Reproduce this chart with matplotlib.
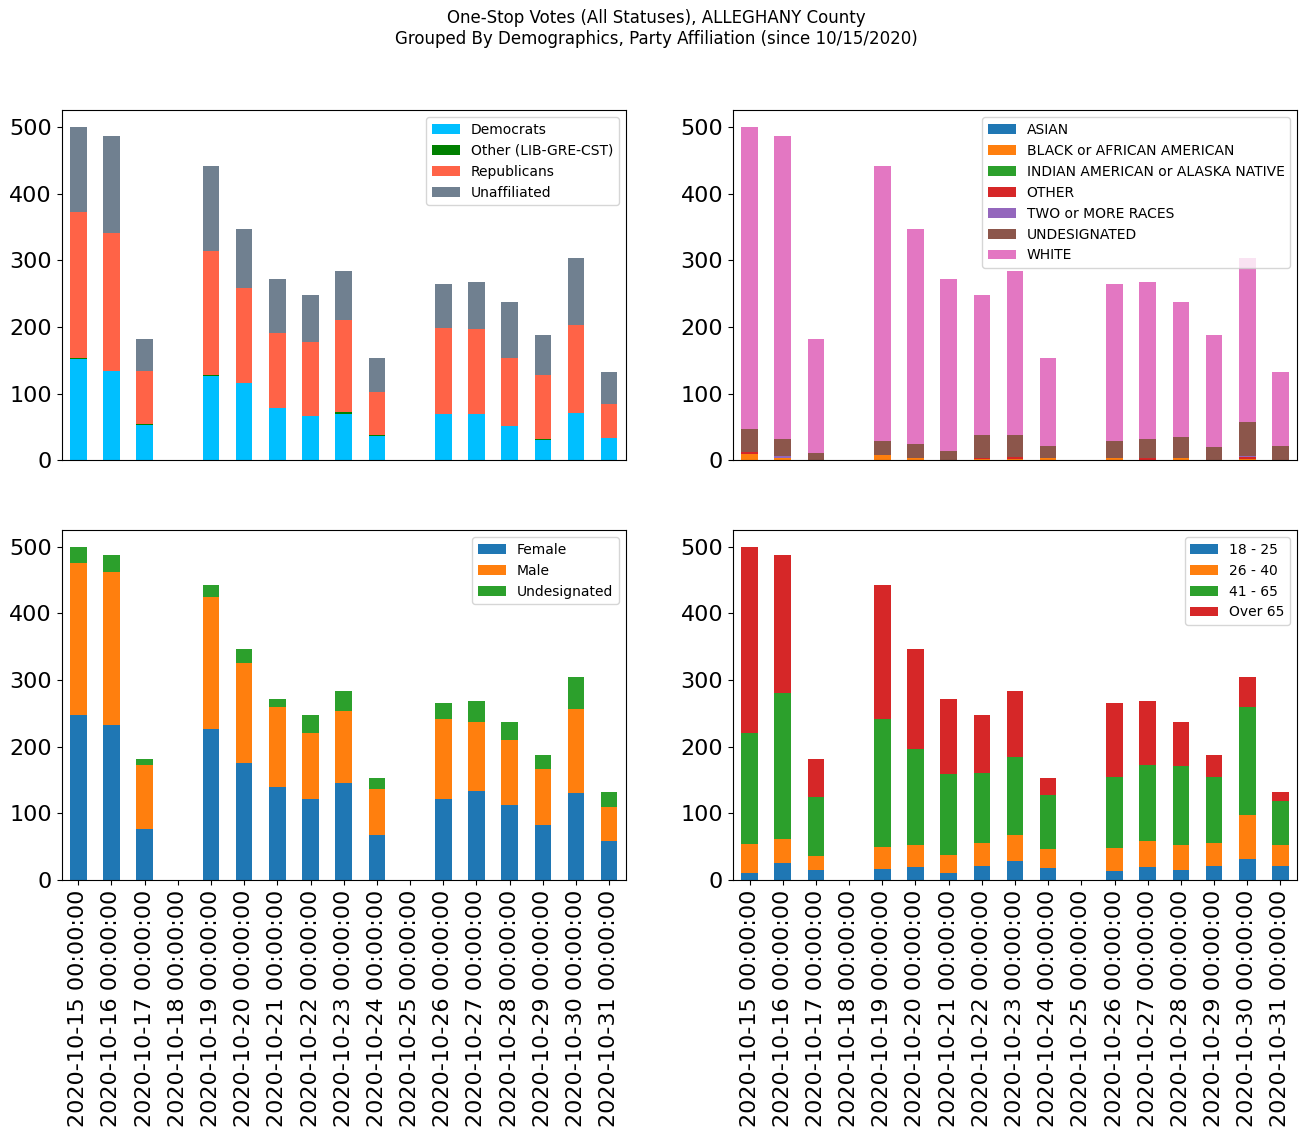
import matplotlib
matplotlib.use("Agg")
import matplotlib.pyplot as plt
import pandas as pd

dates = ["2020-10-15 00:00:00", "2020-10-16 00:00:00", "2020-10-17 00:00:00", "2020-10-18 00:00:00",
         "2020-10-19 00:00:00", "2020-10-20 00:00:00", "2020-10-21 00:00:00", "2020-10-22 00:00:00",
         "2020-10-23 00:00:00", "2020-10-24 00:00:00", "2020-10-25 00:00:00", "2020-10-26 00:00:00",
         "2020-10-27 00:00:00", "2020-10-28 00:00:00", "2020-10-29 00:00:00", "2020-10-30 00:00:00",
         "2020-10-31 00:00:00"]

# party
democrats    = [152, 134, 53, 0, 127, 116, 79, 67, 70, 37, 0, 69, 70, 52, 31, 71, 34]
other_party  = [2, 0, 1, 0, 1, 0, 0, 0, 2, 1, 0, 1, 0, 0, 1, 0, 0]
republicans  = [219, 207, 80, 0, 186, 143, 112, 111, 139, 65, 0, 128, 127, 102, 96, 132, 51]
unaffiliated = [127, 146, 48, 0, 128, 88, 81, 70, 73, 50, 0, 67, 71, 83, 60, 101, 47]

# race
asian        = [0, 0, 0, 0, 0, 1, 0, 0, 0, 0, 0, 0, 0, 0, 0, 0, 0]
black        = [9, 3, 0, 0, 8, 2, 0, 2, 2, 3, 0, 3, 1, 3, 0, 2, 0]
indian       = [1, 1, 0, 0, 0, 0, 0, 0, 0, 0, 0, 0, 0, 0, 1, 0, 0]
other_race   = [2, 0, 0, 0, 0, 1, 0, 1, 3, 0, 0, 1, 3, 1, 0, 3, 1]
two_or_more  = [1, 2, 0, 0, 0, 0, 0, 1, 0, 0, 0, 0, 0, 0, 0, 2, 0]
undesig_race = [34, 26, 11, 0, 21, 20, 14, 34, 33, 18, 0, 25, 28, 31, 19, 50, 20]
white        = [453, 455, 171, 0, 413, 323, 258, 210, 246, 132, 0, 236, 236, 202, 168, 247, 111]

# gender
female       = [247, 232, 77, 0, 226, 176, 139, 121, 146, 68, 0, 122, 134, 113, 83, 131, 59]
male         = [228, 230, 96, 0, 198, 150, 121, 100, 108, 69, 0, 120, 103, 97, 84, 125, 51]
undesig_sex  = [25, 25, 9, 0, 18, 21, 12, 27, 30, 16, 0, 23, 31, 27, 21, 48, 22]

# age
age_18_25    = [10, 26, 15, 0, 17, 20, 11, 21, 29, 18, 0, 14, 20, 15, 21, 32, 21]
age_26_40    = [44, 36, 21, 0, 33, 33, 27, 35, 39, 29, 0, 34, 39, 38, 35, 66, 32]
age_41_65    = [166, 218, 88, 0, 191, 144, 121, 105, 117, 81, 0, 107, 114, 118, 98, 161, 65]
age_over_65  = [280, 207, 58, 0, 201, 150, 113, 87, 99, 25, 0, 110, 95, 66, 34, 45, 14]

party_df = pd.DataFrame({"Democrats": democrats, "Other (LIB-GRE-CST)": other_party,
                         "Republicans": republicans, "Unaffiliated": unaffiliated}, index=dates)
race_df = pd.DataFrame({"ASIAN": asian, "BLACK or AFRICAN AMERICAN": black,
                        "INDIAN AMERICAN or ALASKA NATIVE": indian, "OTHER": other_race,
                        "TWO or MORE RACES": two_or_more, "UNDESIGNATED": undesig_race,
                        "WHITE": white}, index=dates)
gender_df = pd.DataFrame({"Female": female, "Male": male, "Undesignated": undesig_sex}, index=dates)
age_df = pd.DataFrame({"18 - 25": age_18_25, "26 - 40": age_26_40, "41 - 65": age_41_65,
                       "Over 65": age_over_65}, index=dates)

fig, axes = plt.subplots(2, 2, figsize=(13.12, 11.37), dpi=100)
fig.subplots_adjust(left=0.047, right=0.9886, top=0.903, bottom=0.226, wspace=0.19, hspace=0.2)
fig.suptitle("One-Stop Votes (All Statuses), ALLEGHANY County\n"
             "Grouped By Demographics, Party Affiliation (since 10/15/2020)", fontsize=12, y=0.992)

party_df.plot(kind="bar", stacked=True, ax=axes[0][0], fontsize=16,
              color=["deepskyblue", "green", "tomato", "slategray"])
race_df.plot(kind="bar", stacked=True, ax=axes[0][1], fontsize=16)
gender_df.plot(kind="bar", stacked=True, ax=axes[1][0], fontsize=16)
age_df.plot(kind="bar", stacked=True, ax=axes[1][1], fontsize=16)

for ax in axes[0]:
    ax.tick_params(axis="x", bottom=False, labelbottom=False)
for ax in axes.flat:
    ax.legend(loc="upper right", fontsize=10)
    ax.set_ylim(0, 525)

plt.savefig("out.png")
